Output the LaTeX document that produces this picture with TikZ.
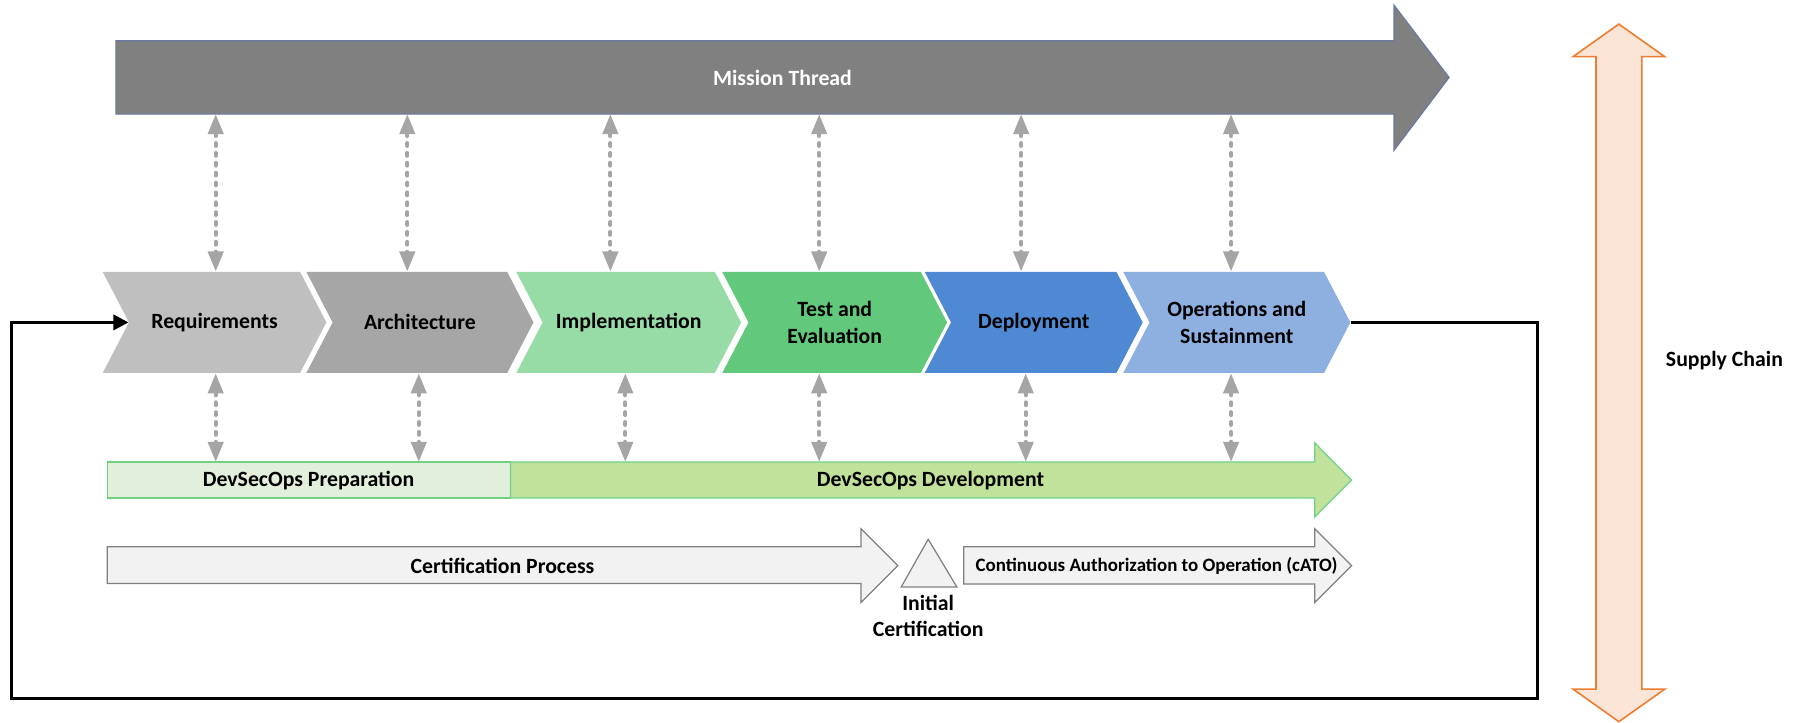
\documentclass[tikz,border=0pt]{standalone}
\usepackage{fontspec}
\setmainfont{Carlito}
\usepackage{tikz}
\usetikzlibrary{arrows.meta,shapes.symbols}

\definecolor{mission}{RGB}{128,128,128}
\definecolor{missionedge}{RGB}{105,122,160}
\definecolor{reqgray}{RGB}{191,191,191}
\definecolor{archgray}{RGB}{166,166,166}
\definecolor{implgreen}{RGB}{151,219,167}
\definecolor{testgreen}{RGB}{98,200,123}
\definecolor{deplblue}{RGB}{79,136,211}
\definecolor{opsblue}{RGB}{142,176,225}
\definecolor{prepfill}{RGB}{226,239,218}
\definecolor{devfill}{RGB}{192,226,154}
\definecolor{devedge}{RGB}{110,210,135}
\definecolor{certfill}{RGB}{242,242,242}
\definecolor{certedge}{RGB}{127,127,127}
\definecolor{supplyfill}{RGB}{251,229,214}
\definecolor{supplyedge}{RGB}{237,125,49}
\definecolor{linkgray}{RGB}{165,165,165}

\begin{document}
\begin{tikzpicture}[
    x=0.02cm, y=-0.02cm, % one unit per pixel, y runs down
    font=\fontsize{10.8pt}{13pt}\selectfont\bfseries,
    chevron/.style={shape=signal, signal from=west, signal to=east,
        signal pointer angle=125, minimum width=3.96cm, minimum height=1.76cm,
        inner sep=0pt, align=center},
    link/.style={linkgray, line width=2pt, dash pattern=on 1.4pt off 3.5pt, line cap=round,
        {Triangle[length=10pt,width=7.5pt]}-{Triangle[length=10pt,width=7.5pt]}},
    feedback/.style={black, line width=1.6pt, -{Triangle[length=7.5pt,width=7.5pt]}},
    block/.style={line width=0.6pt, line join=miter}
  ]
\useasboundingbox (0,0) rectangle (1568,630);

% mission thread
\draw[block, fill=mission, draw=missionedge] (101,35.5) -- (1215,35.5) -- (1215,4.5) -- (1263,67.5)
    -- (1215,131) -- (1215,99.4) -- (101,99.4) -- cycle;
\node[text=white] (M) at (682,67.5) {Mission Thread};

% phases
\node[chevron, fill=reqgray, minimum width=3.9cm] (Req) at (187,281) {Requirements};
\node[chevron, fill=archgray] (Arch) at (366,281) {Architecture};
\node[chevron, fill=implgreen, minimum width=3.92cm] (Impl) at (548,281) {Implementation};
\node[chevron, fill=testgreen, minimum width=3.92cm] (Test) at (727.5,281) {Test and\\Evaluation};
\node[chevron, fill=deplblue, minimum width=3.8cm] (Depl) at (901,281) {Deployment};
\node[chevron, fill=opsblue] (Ops) at (1078,281) {Operations and\\Sustainment};

% devsecops bar
\draw[block, fill=prepfill, draw=devedge] (93.5,402.6) rectangle (445,434);
\draw[block, fill=devfill, draw=devedge] (445,402.6) -- (1146,402.6) -- (1146,386) -- (1178,418.5)
    -- (1146,450.6) -- (1146,434) -- (445,434) -- cycle;
\node (Prep) at (269,418.5) {DevSecOps Preparation};
\node (Dev) at (811,418.5) {DevSecOps Development};

% certification
\draw[block, fill=certfill, draw=certedge] (93.5,476.5) -- (750.5,476.5) -- (750.5,461) -- (782.5,493)
    -- (750.5,525) -- (750.5,508.5) -- (93.5,508.5) -- cycle;
\node (Cert) at (438,493) {Certification Process};
\draw[block, fill=certfill, draw=certedge] (809,470) -- (834,511.6) -- (785.5,511.6) -- cycle;
\node[align=center] (Init) at (809,537) {Initial\\Certification};
\draw[block, fill=certfill, draw=certedge] (840,476.5) -- (1146,476.5) -- (1146,461) -- (1178,493)
    -- (1146,525) -- (1146,509) -- (840,509) -- cycle;
\node[font=\fontsize{9.4pt}{11pt}\selectfont\bfseries] (cATO) at (1008,493) {Continuous Authorization to Operation (cATO)};

% supply chain
\draw[block, line width=0.8pt, fill=supplyfill, draw=supplyedge] (1411,21) -- (1451,49.4) -- (1431,49.4)
    -- (1431,600.6) -- (1451,600.6) -- (1411,629) -- (1371,600.6) -- (1391,600.6) -- (1391,49.4)
    -- (1371,49.4) -- cycle;
\node (Supply) at (1503,314.6) {Supply Chain};

% links to mission thread
\coordinate (m1) at (188,99.4);
\coordinate (m2) at (355,99.4);
\coordinate (m3) at (532,99.4);
\coordinate (m4) at (714,99.4);
\coordinate (m5) at (890,99.4);
\coordinate (m6) at (1073,99.4);
\path [link] (m1) edge (m1 |- Req.north);
\path [link] (m2) edge (m2 |- Arch.north);
\path [link] (m3) edge (m3 |- Impl.north);
\path [link] (m4) edge (m4 |- Test.north);
\path [link] (m5) edge (m5 |- Depl.north);
\path [link] (m6) edge (m6 |- Ops.north);

% links to devsecops
\coordinate (d1) at (188,402.6);
\coordinate (d2) at (365,402.6);
\coordinate (d3) at (545,402.6);
\coordinate (d4) at (714,402.6);
\coordinate (d5) at (894,402.6);
\coordinate (d6) at (1073,402.6);
\path [link] (d1 |- Req.south) edge (d1);
\path [link] (d2 |- Arch.south) edge (d2);
\path [link] (d3 |- Impl.south) edge (d3);
\path [link] (d4 |- Test.south) edge (d4);
\path [link] (d5 |- Depl.south) edge (d5);
\path [link] (d6 |- Ops.south) edge (d6);

% feedback loop
\coordinate (fbr) at (1340,608.6);
\coordinate (fbl) at (10,608.6);
\draw[feedback] (Ops.east) -| (fbr) -- (fbl) |- (Req.west);
\end{tikzpicture}
\end{document}
